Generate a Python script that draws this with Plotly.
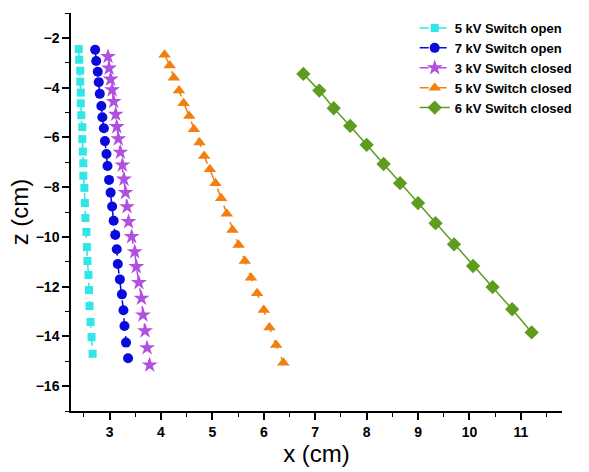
import plotly.graph_objects as go

# 5 kV Switch open
x_5open = [2.40, 2.41, 2.43, 2.43, 2.44, 2.44, 2.45, 2.47, 2.47, 2.48, 2.49, 2.49,
           2.51, 2.52, 2.53, 2.55, 2.56, 2.57, 2.59, 2.60, 2.61, 2.63, 2.65, 2.67]
z_5open = [-2.45, -2.88, -3.32, -3.76, -4.20, -4.63, -5.11, -5.59, -6.07, -6.57, -7.04, -7.54,
           -8.03, -8.64, -9.24, -9.80, -10.41, -10.97, -11.53, -12.14, -12.78, -13.42, -14.03, -14.70]

# 7 kV Switch open
x_7open = [2.72, 2.74, 2.77, 2.79, 2.81, 2.84, 2.86, 2.89, 2.91, 2.94, 2.96, 2.99,
           3.02, 3.05, 3.08, 3.11, 3.14, 3.16, 3.20, 3.24, 3.27, 3.29, 3.32, 3.36]
z_7open = [-2.48, -2.93, -3.36, -3.78, -4.25, -4.74, -5.19, -5.63, -6.15, -6.67, -7.15, -7.71,
           -8.22, -8.78, -9.35, -9.92, -10.50, -11.09, -11.71, -12.31, -12.95, -13.58, -14.25, -14.88]

# 3 kV Switch closed
x_3closed = [2.97, 2.99, 3.02, 3.05, 3.08, 3.12, 3.14, 3.17, 3.21, 3.25, 3.28, 3.31,
             3.34, 3.37, 3.43, 3.49, 3.52, 3.57, 3.62, 3.65, 3.69, 3.73, 3.78]
z_3closed = [-2.75, -3.22, -3.66, -4.09, -4.56, -5.07, -5.57, -6.06, -6.60, -7.11, -7.68, -8.22,
             -8.79, -9.39, -9.99, -10.60, -11.20, -11.84, -12.47, -13.14, -13.78, -14.46, -15.15]

# 5 kV Switch closed
x_5closed = [4.07, 4.17, 4.25, 4.35, 4.44, 4.55, 4.64, 4.75, 4.84, 4.95, 5.06, 5.17,
             5.28, 5.39, 5.51, 5.63, 5.75, 5.87, 6.00, 6.11, 6.24, 6.38]
z_5closed = [-2.68, -3.11, -3.60, -4.12, -4.63, -5.14, -5.67, -6.21, -6.75, -7.28, -7.84, -8.45,
             -9.07, -9.72, -10.33, -10.97, -11.64, -12.27, -12.94, -13.64, -14.35, -15.06]

# 6 kV Switch closed
x_6closed = [6.77, 7.08, 7.36, 7.68, 8.00, 8.33, 8.65, 9.00, 9.34, 9.70, 10.07, 10.45, 10.83, 11.21]
z_6closed = [-3.45, -4.12, -4.83, -5.54, -6.30, -7.07, -7.84, -8.64, -9.45, -10.30, -11.17,
             -12.02, -12.91, -13.84]

series = [
    ("5 kV Switch open", x_5open, z_5open, "#30E6E6", "square", 8, "dash"),
    ("7 kV Switch open", x_7open, z_7open, "#0A0ADC", "circle", 10, "dash"),
    ("3 kV Switch closed", x_3closed, z_3closed, "#B04FE0", "star", 12, "dash"),
    ("5 kV Switch closed", x_5closed, z_5closed, "#F0800F", "triangle-up", 11, "dash"),
    ("6 kV Switch closed", x_6closed, z_6closed, "#5E9C1E", "diamond", 11, "solid"),
]

fig = go.Figure()
for name, xs, zs, color, sym, size, dash in series:
    fig.add_trace(go.Scatter(
        x=xs, y=zs, name=name, mode="lines+markers",
        line=dict(color=color, width=1.5, dash=dash),
        marker=dict(symbol=sym, size=size, color=color),
    ))

font_family = "Arial, 'Liberation Sans', sans-serif"
fig.update_layout(
    width=589, height=472,
    margin=dict(l=71, r=27, t=13, b=61, autoexpand=False),
    paper_bgcolor="white", plot_bgcolor="white",
    font=dict(family=font_family, color="black"),
    legend=dict(x=0.70, y=1.0, xanchor="left", yanchor="top",
                font=dict(size=13, weight="bold", family=font_family),
                bgcolor="rgba(0,0,0,0)", tracegroupgap=0, itemwidth=30),
)
fig.update_xaxes(
    range=[2.25, 11.8], tickvals=[3, 4, 5, 6, 7, 8, 9, 10, 11],
    showline=True, linecolor="black", linewidth=1.5, mirror=False,
    ticks="outside", ticklen=7, tickwidth=1.5, tickcolor="black",
    minor=dict(ticks="outside", dtick=0.5, tick0=0, ticklen=4, tickwidth=1, tickcolor="black"),
    showgrid=False, zeroline=False,
    tickfont=dict(size=14, weight="bold", family=font_family),
    title=dict(text="x (cm)", font=dict(size=24, family=font_family), standoff=6),
)
fig.update_yaxes(
    range=[-17, -1], tickvals=[-2, -4, -6, -8, -10, -12, -14, -16],
    showline=True, linecolor="black", linewidth=1.5, mirror=False,
    ticks="outside", ticklen=7, tickwidth=1.5, tickcolor="black",
    minor=dict(ticks="outside", dtick=1, tick0=-1, ticklen=4, tickwidth=1, tickcolor="black"),
    showgrid=False, zeroline=False,
    tickfont=dict(size=14, weight="bold", family=font_family),
    title=dict(text="z (cm)", font=dict(size=24, family=font_family), standoff=0),
)
fig.write_html("out.html")
